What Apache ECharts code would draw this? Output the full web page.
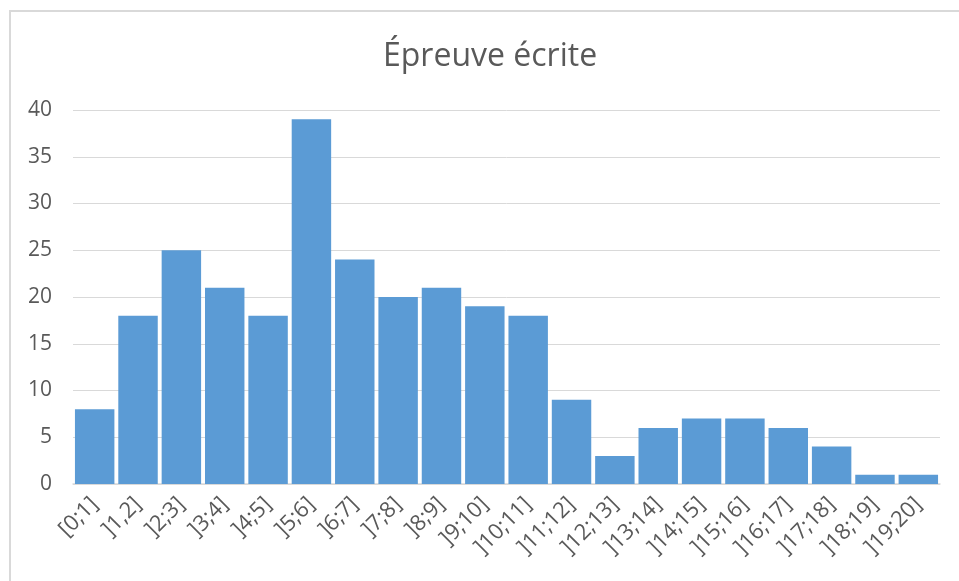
<!DOCTYPE html>
<html>
<head>
<meta charset="utf-8">
<script src="https://cdn.jsdelivr.net/npm/echarts@6/dist/echarts.min.js"></script>
<style>
  html, body { margin: 0; padding: 0; background: #fff; }
  #chart { width: 959px; height: 581px; }
</style>
</head>
<body>
<div id="chart"></div>
<script>
// intervalles de notes
var categories = ['[0;1]', ']1,2]', ']2;3]', ']3;4]', ']4;5]', ']5;6]', ']6;7]', ']7;8]', ']8;9]', ']9;10]',
  ']10;11]', ']11;12]', ']12;13]', ']13;14]', ']14;15]', ']15;16]', ']16;17]', ']17;18]', ']18;19]', ']19;20]'];
// effectifs
var effectifs = [8, 18, 25, 21, 18, 39, 24, 20, 21, 19, 18, 9, 3, 6, 7, 7, 6, 4, 1, 1];
var yMin = 0, yMax = 40, yStep = 5;

var font = '"Open Sans", "Noto Sans", sans-serif';
var chart = echarts.init(document.getElementById('chart'));
chart.setOption({
  animation: false,
  backgroundColor: '#fff',
  graphic: [{
    type: 'rect',
    shape: { x: 10, y: 11, width: 1000, height: 700 },
    style: { fill: 'none', stroke: '#d9d9d9', lineWidth: 2 },
    silent: true
  }],
  title: {
    text: 'Épreuve écrite',
    left: 378,
    top: 36,
    textStyle: { fontFamily: font, fontSize: 32, fontWeight: 'normal', color: '#595959' }
  },
  grid: { left: 73, right: 19, top: 110, bottom: 97 },
  xAxis: {
    type: 'category',
    data: categories,
    axisLine: { lineStyle: { color: '#d9d9d9', width: 1.5 } },
    axisTick: { show: false },
    axisLabel: {
      interval: 0,
      rotate: 45,
      margin: 17,
      color: '#595959',
      fontFamily: font,
      fontSize: 22
    }
  },
  yAxis: {
    type: 'value',
    min: yMin,
    max: yMax,
    interval: yStep,
    axisLine: { show: false },
    axisTick: { show: false },
    splitLine: { lineStyle: { color: '#d9d9d9', width: 1 } },
    axisLabel: { color: '#595959', fontFamily: font, fontSize: 21, margin: 21 }
  },
  series: [{
    type: 'bar',
    data: effectifs,
    barCategoryGap: '9%',
    itemStyle: { color: '#5b9bd5' }
  }]
});
</script>
</body>
</html>
